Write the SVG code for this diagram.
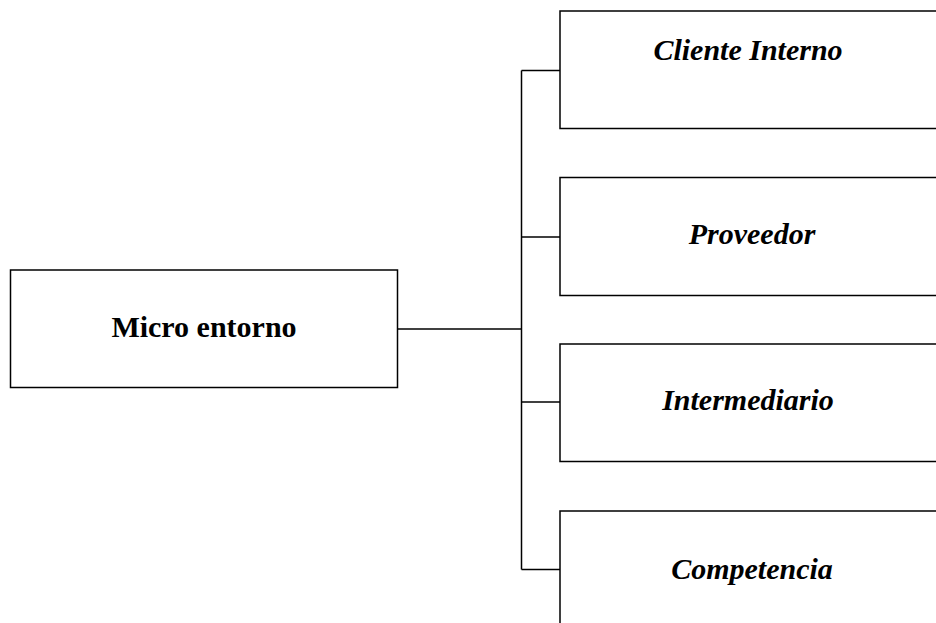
<svg xmlns="http://www.w3.org/2000/svg" width="936" height="623" viewBox="0 0 936 623">
  <style>
    .box { fill: #ffffff; stroke: #000000; stroke-width: 1.5; }
    .link { fill: none; stroke: #000000; stroke-width: 1.5; }
    .main { font-family: "Liberation Serif", "Times New Roman", serif; font-weight: bold; font-size: 30px; fill: #000000; text-anchor: middle; }
    .sub { font-family: "Liberation Serif", "Times New Roman", serif; font-weight: bold; font-style: italic; font-size: 30px; fill: #000000; text-anchor: middle; }
  </style>
  <rect width="936" height="623" fill="#ffffff"/>

  <!-- connectors: trunk from the root box and four branches -->
  <g id="connectors">
    <path class="link" d="M397.5 329 H521.5"/>
    <path class="link" d="M521.5 70.5 V569.5"/>
    <path class="link" d="M521.5 70.5 H560"/>
    <path class="link" d="M521.5 237 H560"/>
    <path class="link" d="M521.5 402 H560"/>
    <path class="link" d="M521.5 569.5 H560"/>
  </g>

  <g id="micro-entorno">
    <rect class="box" x="10.5" y="270" width="387" height="117.5"/>
    <text class="main" x="204" y="337">Micro entorno</text>
  </g>

  <g id="cliente-interno">
    <rect class="box" x="560" y="11" width="390" height="117.5"/>
    <text class="sub" x="748" y="60">Cliente Interno</text>
  </g>

  <g id="proveedor">
    <rect class="box" x="560" y="177.5" width="390" height="118"/>
    <text class="sub" x="752" y="244">Proveedor</text>
  </g>

  <g id="intermediario">
    <rect class="box" x="560" y="344" width="390" height="117.5"/>
    <text class="sub" x="748" y="410">Intermediario</text>
  </g>

  <g id="competencia">
    <rect class="box" x="560" y="511" width="390" height="130"/>
    <text class="sub" x="752" y="579">Competencia</text>
  </g>
</svg>
